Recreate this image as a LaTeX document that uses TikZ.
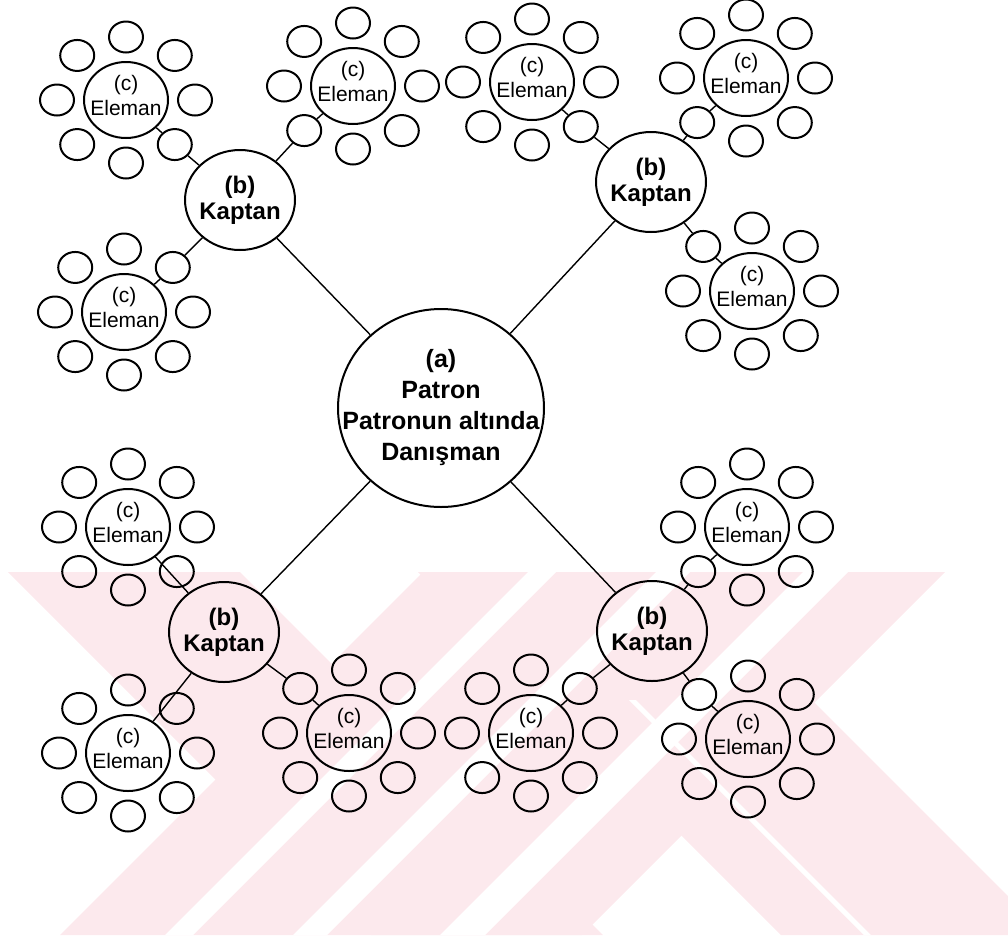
\documentclass[tikz,border=0pt]{standalone}
\usepackage{fontspec}
\setmainfont{Liberation Sans}
\usetikzlibrary{calc, shapes, positioning}
\definecolor{wmpink}{RGB}{252,233,237}

\begin{document}
\begin{tikzpicture}[x=0.5pt, y=-0.5pt,
  patron/.style={shape=ellipse, minimum width=103pt, minimum height=99pt, inner sep=0pt, draw=black, line width=1pt},
  kaptan/.style={shape=ellipse, minimum width=55pt, minimum height=50pt, inner sep=0pt, draw=black, line width=1pt},
  eleman/.style={shape=ellipse, minimum width=42pt, minimum height=38pt, inner sep=0pt, draw=black, line width=1pt},
  ring/.style={shape=ellipse, minimum width=17pt, minimum height=15.5pt, inner sep=0pt, draw=black, line width=1pt},
  ptext/.style={align=center, font=\bfseries\fontsize{12.5}{15.5}\selectfont},
  ktext/.style={align=center, font=\bfseries\fontsize{12}{13}\selectfont},
  etext/.style={align=center, yshift=2.5pt, font=\fontsize{10.5}{12.5}\selectfont},
  tie/.style={line width=0.7pt}]
\useasboundingbox (0,0) rectangle (1008,939);
%watermark
\begin{scope}
\clip (0,572) rectangle (1008,935);
\fill[wmpink] (423,572) -- (945,572) -- (582,935) -- (60,935) -- cycle;
\fill[wmpink] (8,572) -- (240,572) -- (603,935) -- (371,935) -- cycle;
\fill[wmpink] (418,572) -- (684,572) -- (1047,935) -- (781,935) -- cycle;
\fill[white] (528,572) -- (556,572) -- (193,935) -- (165,935) -- cycle;
\fill[white] (656,572) -- (690,572) -- (327,935) -- (293,935) -- cycle;
\fill[white] (803,572) -- (848,572) -- (485,935) -- (440,935) -- cycle;
\fill[white] (629,700) -- (636,700) -- (871,935) -- (864,935) -- cycle;
\end{scope}
%patron
\node[patron, label={[ptext]center:{(a)\\Patron\\Patronun altında\\Danışman}}] (pat) at (441,408) {};
%kaptan
\node[kaptan, label={[ktext]center:{(b)\\Kaptan}}] (k1) at (240,200) {};
\node[kaptan, label={[ktext]center:{(b)\\Kaptan}}] (k2) at (651,182) {};
\node[kaptan, label={[ktext]center:{(b)\\Kaptan}}] (k3) at (224,632) {};
\node[kaptan, label={[ktext]center:{(b)\\Kaptan}}] (k4) at (652,631) {};
%eleman with its ring
\foreach \n/\x/\y in {e1/126/100, e2/353/86, e3/124/312, e4/532/82, e5/746/78, e6/752/291,
  e7/128/527, e8/128/753, e9/349/733, e10/747/527, e11/531/733, e12/748/739}{
  \node[eleman, label={[etext]center:{(c)\\Eleman}}] (\n) at (\x,\y) {};
  \foreach \a [count=\i from 0] in {0,45,...,315}
    \node[ring] (\n-s\i) at ($(\n)+({69*cos(\a)},{63*sin(\a)})$) {};
}
%%
\draw[tie] (pat) -- (k1) (pat) -- (k2) (pat) -- (k3) (pat) -- (k4);
\foreach \k/\e/\s in {k1/e1/1, k1/e2/3, k1/e3/7, k2/e4/1, k2/e5/3, k2/e6/5, k3/e9/5, k4/e10/3, k4/e11/7, k4/e12/5}
  \draw[tie] (\k) -- (\e-s\s) (\e-s\s) -- (\e);
\draw[tie] (k3) -- (e7) (k3) -- (e8);
\end{tikzpicture}
\end{document}
